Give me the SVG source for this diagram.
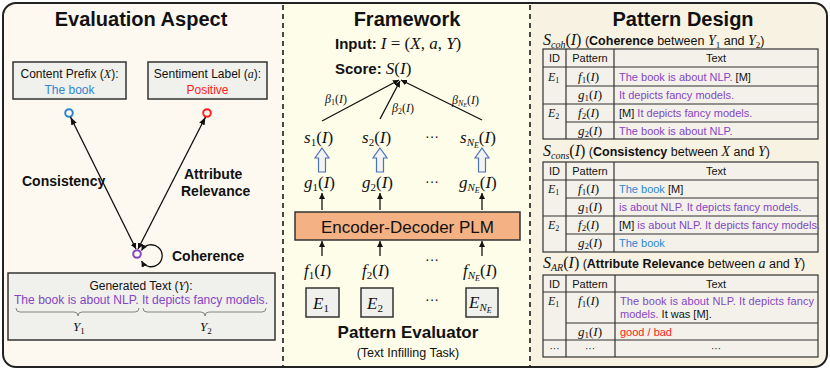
<svg xmlns="http://www.w3.org/2000/svg" width="830" height="370" viewBox="0 0 830 370">
<defs>
<clipPath id="outer"><rect x="3" y="3" width="824" height="364" rx="13"/></clipPath>
<marker id="ah" viewBox="0 0 8 6" refX="8" refY="3" markerWidth="8" markerHeight="6" markerUnits="userSpaceOnUse" orient="auto-start-reverse"><path d="M0,0 L8,3 L0,6 z" fill="#111"/></marker>
<marker id="ahs" viewBox="0 0 6 6" refX="6" refY="3" markerWidth="6" markerHeight="6" markerUnits="userSpaceOnUse" orient="auto-start-reverse"><path d="M0,0 L6,3 L0,6 z" fill="#111"/></marker>
</defs>
<style>
.t{font-family:"Liberation Sans",Arial,sans-serif;fill:#111}
.title{font-family:"Liberation Sans",Arial,sans-serif;font-weight:bold;font-size:20px;fill:#111;text-anchor:middle}
.b{font-weight:bold}
.m{font-family:"Liberation Serif","Times New Roman",serif;font-style:italic;fill:#111}
.up{font-style:normal}
.pu{fill:#8446c4}
.bl{fill:#2e86d1}
.rd{fill:#ff2020}
.box{fill:#f0f0ec;stroke:#333;stroke-width:1.5}
.ln{stroke:#111;stroke-width:1.3;fill:none}
.tb{fill:#f4f1eb;stroke:#333;stroke-width:1.2}
.tl{stroke:#333;stroke-width:1.2}
.hol{fill:#f3f3f3;stroke:#4a72b8;stroke-width:1.2}
.c{text-anchor:middle}
</style>
<g clip-path="url(#outer)">
<rect x="0" y="0" width="283" height="370" fill="#fdf9f1"/>
<rect x="283" y="0" width="247" height="370" fill="#fefde9"/>
<rect x="530" y="0" width="300" height="370" fill="#f8f2e3"/>
</g>
<rect x="3" y="3" width="824" height="364" rx="13" fill="none" stroke="#222" stroke-width="2"/>
<line x1="283" y1="5" x2="283" y2="366" stroke="#333" stroke-width="1.8" stroke-dasharray="5,4"/>
<line x1="530" y1="5" x2="530" y2="366" stroke="#333" stroke-width="1.8" stroke-dasharray="5,4"/>

<!-- LEFT PANEL -->
<text class="title" x="141" y="26">Evaluation Aspect</text>
<g id="content-prefix">
<rect class="box" x="13" y="62" width="113" height="37"/>
<text class="t c" x="69.5" y="78" font-size="12">Content Prefix (<tspan class="m">X</tspan>):</text>
<text class="t c bl" x="69.5" y="94" font-size="12">The book</text>
<circle cx="69" cy="113" r="3.8" fill="none" stroke="#2e86d1" stroke-width="2"/>
</g>
<g id="sentiment-label">
<rect class="box" x="148" y="62" width="119" height="37"/>
<text class="t c" x="207.5" y="78" font-size="12">Sentiment Label (<tspan class="m">a</tspan>):</text>
<text class="t c rd" x="207.5" y="94" font-size="12">Positive</text>
<circle cx="207" cy="113" r="3.8" fill="none" stroke="#ff2020" stroke-width="2"/>
</g>
<g id="generated-node">
<circle cx="137" cy="254" r="3.8" fill="none" stroke="#8446c4" stroke-width="2"/>
</g>
<g id="left-connectors">
<line class="ln" x1="136" y1="249" x2="70.5" y2="117" marker-start="url(#ahs)" marker-end="url(#ah)"/>
<line class="ln" x1="138" y1="249" x2="205.5" y2="117" marker-start="url(#ahs)" marker-end="url(#ah)"/>
<path class="ln" d="M141.5,250.5 A11,11 0 1 1 141.5,261" marker-start="url(#ahs)" marker-end="url(#ahs)"/>
</g>
<text class="t b" x="22" y="186" font-size="14">Consistency</text>
<text class="t b" x="184" y="179" font-size="14">Attribute</text>
<text class="t b" x="181" y="196" font-size="14">Relevance</text>
<text class="t b" x="172" y="261" font-size="14">Coherence</text>
<g id="generated-text">
<rect class="box" x="8" y="273" width="267" height="67"/>
<text class="t c" x="141" y="290" font-size="12">Generated Text (<tspan class="m">Y</tspan>):</text>
<text class="t c pu" x="141" y="304" font-size="12" textLength="254" lengthAdjust="spacingAndGlyphs">The book is about NLP. It depicts fancy models.</text>
<path d="M16,308 q0,4 4,4 L74,312 q4,0 4,4 q0,-4 4,-4 L135,312 q4,0 4,-4" fill="none" stroke="#777" stroke-width="0.9"/>
<path d="M143,308 q0,4 4,4 L201,312 q4,0 4,4 q0,-4 4,-4 L262,312 q4,0 4,-4" fill="none" stroke="#777" stroke-width="0.9"/>
<text class="m" x="73" y="331" font-size="13">Y<tspan class="up" font-size="9" dy="3">1</tspan></text>
<text class="m" x="200" y="331" font-size="13">Y<tspan class="up" font-size="9" dy="3">2</tspan></text>
</g>

<!-- MIDDLE PANEL -->
<text class="title" x="407" y="26">Framework</text>
<text class="t b" x="335" y="49" font-size="15">Input: <tspan class="m" font-weight="normal" font-size="17">I <tspan class="up">= (</tspan>X<tspan class="up">, </tspan>a<tspan class="up">, </tspan>Y<tspan class="up">)</tspan></tspan></text>
<g id="score">
<text class="t b" x="335" y="74" font-size="15">Score: <tspan class="m" font-weight="normal" font-size="17">S<tspan class="up">(</tspan>I<tspan class="up">)</tspan></tspan></text>
</g>
<g id="mid-connectors">
<line class="ln" x1="322" y1="121" x2="399" y2="80" marker-end="url(#ahs)"/>
<line class="ln" x1="380" y1="119" x2="400" y2="81" marker-end="url(#ahs)"/>
<line class="ln" x1="482" y1="120" x2="401" y2="80" marker-end="url(#ahs)"/>
<line class="ln" x1="322" y1="210" x2="322" y2="193" marker-end="url(#ahs)"/>
<line class="ln" x1="380" y1="210" x2="380" y2="193" marker-end="url(#ahs)"/>
<line class="ln" x1="482" y1="210" x2="482" y2="193" marker-end="url(#ahs)"/>
<line class="ln" x1="322" y1="256" x2="322" y2="241" marker-end="url(#ahs)"/>
<line class="ln" x1="380" y1="256" x2="380" y2="241" marker-end="url(#ahs)"/>
<line class="ln" x1="482" y1="256" x2="482" y2="241" marker-end="url(#ahs)"/>
<path class="hol" d="M322,148 L329,158 L325.5,158 L325.5,172 L318.5,172 L318.5,158 L315,158 Z"/>
<path class="hol" d="M380,148 L387,158 L383.5,158 L383.5,172 L376.5,172 L376.5,158 L373,158 Z"/>
<path class="hol" d="M482,148 L489,158 L485.5,158 L485.5,172 L478.5,172 L478.5,158 L475,158 Z"/>
</g>
<text class="m" x="325" y="103" font-size="12">β<tspan class="up" font-size="8" dy="2">1</tspan><tspan class="up" dy="-2">(</tspan>I<tspan class="up">)</tspan></text>
<text class="m" x="392" y="112" font-size="12">β<tspan class="up" font-size="8" dy="2">2</tspan><tspan class="up" dy="-2">(</tspan>I<tspan class="up">)</tspan></text>
<text class="m" x="452" y="104" font-size="12">β<tspan font-size="8" dy="2">N</tspan><tspan font-size="6" dy="1">E</tspan><tspan class="up" dy="-3">(</tspan>I<tspan class="up">)</tspan></text>
<g id="s-row">
<text class="m" x="304" y="143" font-size="17">s<tspan class="up" font-size="11" dy="3">1</tspan><tspan class="up" dy="-3">(</tspan>I<tspan class="up">)</tspan></text>
<text class="m" x="362" y="143" font-size="17">s<tspan class="up" font-size="11" dy="3">2</tspan><tspan class="up" dy="-3">(</tspan>I<tspan class="up">)</tspan></text>
<text class="t c" x="432" y="141" font-size="14">···</text>
<text class="m" x="460" y="143" font-size="17">s<tspan font-size="11" dy="3">N</tspan><tspan font-size="8" dy="2">E</tspan><tspan class="up" dy="-5">(</tspan>I<tspan class="up">)</tspan></text>
</g>
<g id="g-row">
<text class="m" x="304" y="188" font-size="17">g<tspan class="up" font-size="11" dy="3">1</tspan><tspan class="up" dy="-3">(</tspan>I<tspan class="up">)</tspan></text>
<text class="m" x="362" y="188" font-size="17">g<tspan class="up" font-size="11" dy="3">2</tspan><tspan class="up" dy="-3">(</tspan>I<tspan class="up">)</tspan></text>
<text class="t c" x="432" y="186" font-size="14">···</text>
<text class="m" x="459" y="188" font-size="17">g<tspan font-size="11" dy="3">N</tspan><tspan font-size="8" dy="2">E</tspan><tspan class="up" dy="-5">(</tspan>I<tspan class="up">)</tspan></text>
</g>
<g id="plm">
<rect x="295" y="212" width="225" height="28" fill="#f4b183" stroke="#333" stroke-width="1.5"/>
<text class="t c" x="407.5" y="232.5" font-size="17">Encoder-Decoder PLM</text>
</g>
<g id="f-row">
<text class="m" x="304" y="276" font-size="17">f<tspan class="up" font-size="11" dy="3">1</tspan><tspan class="up" dy="-3">(</tspan>I<tspan class="up">)</tspan></text>
<text class="m" x="362" y="276" font-size="17">f<tspan class="up" font-size="11" dy="3">2</tspan><tspan class="up" dy="-3">(</tspan>I<tspan class="up">)</tspan></text>
<text class="t c" x="432" y="264" font-size="14">···</text>
<text class="m" x="463" y="276" font-size="17">f<tspan font-size="11" dy="3">N</tspan><tspan font-size="8" dy="2">E</tspan><tspan class="up" dy="-5">(</tspan>I<tspan class="up">)</tspan></text>
</g>
<g id="e1">
<rect class="box" x="306" y="288" width="33" height="29"/>
<text class="m" x="313" y="309" font-size="17">E<tspan class="up" font-size="11" dy="3">1</tspan></text>
</g>
<g id="e2">
<rect class="box" x="361" y="288" width="32" height="29"/>
<text class="m" x="367" y="309" font-size="17">E<tspan class="up" font-size="11" dy="3">2</tspan></text>
</g>
<text class="t c" x="432" y="304" font-size="14">···</text>
<g id="ene">
<rect class="box" x="466" y="288" width="32" height="29"/>
<text class="m" x="469" y="308" font-size="17">E<tspan font-size="11" dy="3">N</tspan><tspan font-size="8" dy="2">E</tspan></text>
</g>
<text class="t c b" x="408" y="338" font-size="17">Pattern Evaluator</text>
<text class="t c" x="408" y="357" font-size="12.5" fill="#333">(Text Infilling Task)</text>

<!-- RIGHT PANEL -->
<text class="title" x="683" y="26">Pattern Design</text>
<g id="table-coh">
<text class="t" x="543" y="45" font-size="12.5"><tspan class="m" font-size="16">S</tspan><tspan class="m" font-size="10" dy="3">coh</tspan><tspan class="m up" font-size="16" dy="-3">(</tspan><tspan class="m" font-size="16">I</tspan><tspan class="m up" font-size="16">)</tspan> (<tspan class="b">Coherence</tspan> between <tspan class="m" font-size="14">Y</tspan><tspan class="m up" font-size="9" dy="3">1</tspan><tspan dy="-3"> and </tspan><tspan class="m" font-size="14">Y</tspan><tspan class="m up" font-size="9" dy="3">2</tspan><tspan dy="-3">)</tspan></text>
<rect class="tb" x="543" y="49" width="275" height="90"/>
<line class="tl" x1="543" y1="67" x2="818" y2="67"/>
<line class="tl" x1="566" y1="86" x2="818" y2="86"/>
<line class="tl" x1="543" y1="104" x2="818" y2="104"/>
<line class="tl" x1="566" y1="122" x2="818" y2="122"/>
<line class="tl" x1="566" y1="49" x2="566" y2="139"/>
<line class="tl" x1="614" y1="49" x2="614" y2="139"/>
<text class="t c" x="554.5" y="62" font-size="11">ID</text>
<text class="t c" x="590" y="62" font-size="11">Pattern</text>
<text class="t c" x="716" y="62" font-size="11">Text</text>
<text class="m" x="548" y="81" font-size="12">E<tspan class="up" font-size="8" dy="2">1</tspan></text>
<text class="m" x="548" y="117" font-size="12">E<tspan class="up" font-size="8" dy="2">2</tspan></text>
<text class="m" x="578" y="81" font-size="13">f<tspan class="up" font-size="9" dy="2">1</tspan><tspan class="up" dy="-2">(</tspan>I<tspan class="up">)</tspan></text>
<text class="m" x="578" y="99" font-size="13">g<tspan class="up" font-size="9" dy="2">1</tspan><tspan class="up" dy="-2">(</tspan>I<tspan class="up">)</tspan></text>
<text class="m" x="578" y="117" font-size="13">f<tspan class="up" font-size="9" dy="2">2</tspan><tspan class="up" dy="-2">(</tspan>I<tspan class="up">)</tspan></text>
<text class="m" x="578" y="135" font-size="13">g<tspan class="up" font-size="9" dy="2">2</tspan><tspan class="up" dy="-2">(</tspan>I<tspan class="up">)</tspan></text>
<text class="t" x="619" y="81" font-size="11"><tspan class="pu">The book is about NLP.</tspan> [M]</text>
<text class="t pu" x="619" y="99" font-size="11">It depicts fancy models.</text>
<text class="t" x="619" y="117" font-size="11">[M] <tspan class="pu">It depicts fancy models.</tspan></text>
<text class="t pu" x="619" y="135" font-size="11">The book is about NLP.</text>
</g>
<g id="table-cons">
<text class="t" x="543" y="156" font-size="12.5"><tspan class="m" font-size="16">S</tspan><tspan class="m" font-size="10" dy="3">cons</tspan><tspan class="m up" font-size="16" dy="-3">(</tspan><tspan class="m" font-size="16">I</tspan><tspan class="m up" font-size="16">)</tspan> (<tspan class="b">Consistency</tspan> between <tspan class="m" font-size="14">X</tspan> and <tspan class="m" font-size="14">Y</tspan>)</text>
<rect class="tb" x="543" y="162" width="275" height="90"/>
<line class="tl" x1="543" y1="180" x2="818" y2="180"/>
<line class="tl" x1="566" y1="198" x2="818" y2="198"/>
<line class="tl" x1="543" y1="216" x2="818" y2="216"/>
<line class="tl" x1="566" y1="234" x2="818" y2="234"/>
<line class="tl" x1="566" y1="162" x2="566" y2="252"/>
<line class="tl" x1="614" y1="162" x2="614" y2="252"/>
<text class="t c" x="554.5" y="175" font-size="11">ID</text>
<text class="t c" x="590" y="175" font-size="11">Pattern</text>
<text class="t c" x="716" y="175" font-size="11">Text</text>
<text class="m" x="548" y="193" font-size="12">E<tspan class="up" font-size="8" dy="2">1</tspan></text>
<text class="m" x="548" y="229" font-size="12">E<tspan class="up" font-size="8" dy="2">2</tspan></text>
<text class="m" x="578" y="193" font-size="13">f<tspan class="up" font-size="9" dy="2">1</tspan><tspan class="up" dy="-2">(</tspan>I<tspan class="up">)</tspan></text>
<text class="m" x="578" y="211" font-size="13">g<tspan class="up" font-size="9" dy="2">1</tspan><tspan class="up" dy="-2">(</tspan>I<tspan class="up">)</tspan></text>
<text class="m" x="578" y="229" font-size="13">f<tspan class="up" font-size="9" dy="2">2</tspan><tspan class="up" dy="-2">(</tspan>I<tspan class="up">)</tspan></text>
<text class="m" x="578" y="247" font-size="13">g<tspan class="up" font-size="9" dy="2">2</tspan><tspan class="up" dy="-2">(</tspan>I<tspan class="up">)</tspan></text>
<text class="t" x="619" y="193" font-size="11"><tspan class="bl">The book</tspan> [M]</text>
<text class="t pu" x="619" y="211" font-size="11">is about NLP. It depicts fancy models.</text>
<text class="t" x="619" y="229" font-size="11">[M] <tspan class="pu">is about NLP. It depicts fancy models.</tspan></text>
<text class="t bl" x="619" y="247" font-size="11">The book</text>
</g>
<g id="table-ar">
<text class="t" x="543" y="268" font-size="12.5"><tspan class="m" font-size="16">S</tspan><tspan class="m" font-size="10" dy="3">AR</tspan><tspan class="m up" font-size="16" dy="-3">(</tspan><tspan class="m" font-size="16">I</tspan><tspan class="m up" font-size="16">)</tspan> (<tspan class="b">Attribute Relevance</tspan> between <tspan class="m" font-size="14">a</tspan> and <tspan class="m" font-size="14">Y</tspan>)</text>
<rect class="tb" x="543" y="275" width="275" height="82"/>
<line class="tl" x1="543" y1="292" x2="818" y2="292"/>
<line class="tl" x1="566" y1="323" x2="818" y2="323"/>
<line class="tl" x1="543" y1="340" x2="818" y2="340"/>
<line class="tl" x1="566" y1="275" x2="566" y2="357"/>
<line class="tl" x1="615" y1="275" x2="615" y2="357"/>
<text class="t c" x="554.5" y="288" font-size="11">ID</text>
<text class="t c" x="590" y="288" font-size="11">Pattern</text>
<text class="t c" x="716" y="288" font-size="11">Text</text>
<text class="m" x="548" y="305" font-size="12">E<tspan class="up" font-size="8" dy="2">1</tspan></text>
<text class="m" x="578" y="305" font-size="13">f<tspan class="up" font-size="9" dy="2">1</tspan><tspan class="up" dy="-2">(</tspan>I<tspan class="up">)</tspan></text>
<text class="m" x="578" y="336" font-size="13">g<tspan class="up" font-size="9" dy="2">1</tspan><tspan class="up" dy="-2">(</tspan>I<tspan class="up">)</tspan></text>
<text class="t pu" x="620" y="305" font-size="11" textLength="194" lengthAdjust="spacing">The book is about NLP. It depicts fancy</text>
<text class="t" x="620" y="318" font-size="11"><tspan class="pu">models.</tspan> It was [M].</text>
<text class="t rd" x="620" y="336" font-size="11">good / bad</text>
<text class="t c" x="554.5" y="352" font-size="10">···</text>
<text class="t c" x="590" y="352" font-size="10">···</text>
<text class="t c" x="716" y="352" font-size="10">···</text>
</g>
</svg>
